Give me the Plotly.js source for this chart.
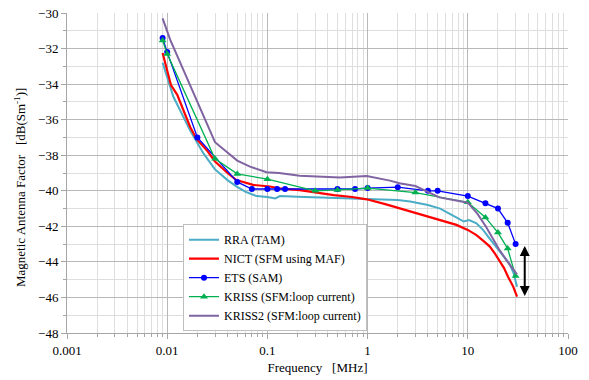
<!DOCTYPE html>
<html>
<head>
<meta charset="utf-8">
<script src="https://cdn.plot.ly/plotly-3.0.1.min.js"></script>
<style>html,body{margin:0;padding:0;background:#fff;font-family:"Liberation Serif","Times New Roman",serif;}#chart{width:589px;height:380px;}
#chart svg text{font-family:"Liberation Serif", "Times New Roman", serif !important;}</style>
</head>
<body>
<div id="chart"></div>
<script>
// ---- data (frequency in MHz, antenna factor in dB(S/m)) ----
const rraFreq = [0.009, 0.0115, 0.0169, 0.019, 0.023, 0.03, 0.04, 0.049, 0.06, 0.078, 0.1, 0.12, 0.133, 0.2, 0.4, 0.67, 1, 2, 2.66, 4, 5.3, 7, 8, 9.1, 10.3, 12.2, 14.2, 16.6, 20, 23, 26, 28.5, 31];
const rraVal  = [-32.8, -34.7, -36.6, -37.1, -37.9, -38.8, -39.4, -39.75, -40.05, -40.3, -40.35, -40.43, -40.3, -40.33, -40.38, -40.43, -40.45, -40.52, -40.6, -40.8, -41.0, -41.35, -41.55, -41.73, -41.65, -41.83, -42.2, -42.7, -43.3, -43.7, -44.1, -44.6, -45.4];

const nictFreq = [0.009, 0.0109, 0.0126, 0.0169, 0.0197, 0.0247, 0.03, 0.04, 0.049, 0.072, 0.106, 0.131, 0.21, 0.3, 0.46, 0.7, 0.98, 1.5, 2.08, 3.6, 5, 7.7, 10, 12.2, 14.5, 16.6, 18.5, 20.5, 23, 25.2, 28.4, 31];
const nictVal  = [-32.25, -34.05, -34.6, -36.4, -37.1, -37.7, -38.35, -39.0, -39.4, -39.67, -39.76, -39.86, -39.96, -40.1, -40.24, -40.35, -40.48, -40.75, -40.98, -41.36, -41.6, -41.92, -42.2, -42.49, -42.85, -43.14, -43.5, -43.89, -44.35, -44.83, -45.39, -45.96];

const etsFreq = [0.009, 0.01, 0.02, 0.05, 0.07, 0.1, 0.125, 0.15, 0.5, 0.75, 1, 2, 4, 5, 10, 15, 20, 25, 30];
const etsVal  = [-31.4, -32.2, -37.0, -39.5, -39.9, -39.9, -39.9, -39.9, -39.9, -39.9, -39.85, -39.8, -40.0, -40.0, -40.3, -40.7, -41.0, -41.8, -43.0];

const krissFreq = [0.009, 0.01, 0.03, 0.05, 0.1, 0.3, 0.5, 1, 3, 10, 15, 20, 25, 30];
const krissVal  = [-31.55, -32.3, -38.2, -39.05, -39.35, -40.0, -39.95, -39.85, -40.1, -40.65, -41.5, -42.35, -43.25, -44.8];

const kriss2Freq = [0.009, 0.0107, 0.03, 0.05, 0.067, 0.098, 0.131, 0.21, 0.53, 0.98, 1.67, 2.08, 3.0, 5.2, 10, 12.5, 15.2, 20.5, 25, 31];
const kriss2Val  = [-30.3, -31.5, -37.27, -38.3, -38.64, -38.96, -39.0, -39.15, -39.26, -39.17, -39.43, -39.58, -39.73, -40.37, -40.67, -41.3, -42.02, -43.29, -44.0, -44.7];

const seriesNames = ['RRA (TAM)', 'NICT (SFM using MAF)', 'ETS (SAM)', 'KRISS (SFM:loop current)', 'KRISS2 (SFM:loop current)'];

const xTickVals = [0.001, 0.01, 0.1, 1, 10, 100];
const xTickText = ['0.001', '0.01', '0.1', '1', '10', '100'];
const yTickVals = [-30, -32, -34, -36, -38, -40, -42, -44, -46, -48];

// spread indicator (double arrow)
const arrowFreq = 37;
const arrowSpan = [-43.1, -46.0];

const serifFamily = 'Times New Roman';

const traces = [
  {x: rraFreq, y: rraVal, name: seriesNames[0], mode: 'lines', line: {color: '#4BACC6', width: 2}},
  {x: nictFreq, y: nictVal, name: seriesNames[1], mode: 'lines', line: {color: '#FF0000', width: 2.2}},
  {x: etsFreq, y: etsVal, name: seriesNames[2], mode: 'lines+markers', line: {color: '#0000FF', width: 1.3}, marker: {color: '#0000FF', size: 6, symbol: 'circle'}},
  {x: krissFreq, y: krissVal, name: seriesNames[3], mode: 'lines+markers', line: {color: '#00B050', width: 1.3}, marker: {color: '#00B050', size: 7, symbol: 'triangle-up'}},
  {x: kriss2Freq, y: kriss2Val, name: seriesNames[4], mode: 'lines', line: {color: '#8064A2', width: 2}}
];

const layout = {
  width: 589, height: 380,
  margin: {l: 67, r: 21, t: 13, b: 47},
  paper_bgcolor: '#fff', plot_bgcolor: '#fff',
  font: {family: serifFamily, size: 13, color: '#000'},
  showlegend: true,
  legend: {
    x: 0.2315, y: 0.34, xanchor: 'left', yanchor: 'top',
    bgcolor: '#fff', bordercolor: '#bfbfbf', borderwidth: 1,
    font: {family: serifFamily, size: 12, color: '#000'}
  },
  xaxis: {
    type: 'log', range: [-3, 2],
    tickvals: xTickVals, ticktext: xTickText,
    showgrid: true, gridcolor: '#b8b8b8', gridwidth: 1,
    showline: true, linecolor: '#a6a6a6', linewidth: 1,
    ticks: 'outside', ticklen: 5, tickcolor: '#a6a6a6',
    minor: {dtick: 'D1', showgrid: true, gridcolor: '#dedede', ticks: 'outside', ticklen: 3, tickcolor: '#a6a6a6'},
    zeroline: false,
    tickfont: {family: serifFamily, size: 13, color: '#000'},
    title: {text: 'Frequency   [MHz]', font: {family: serifFamily, size: 13, color: '#000'}, standoff: 6}
  },
  yaxis: {
    range: [-48, -30],
    tickvals: yTickVals,
    showgrid: true, gridcolor: '#b8b8b8', gridwidth: 1,
    showline: true, linecolor: '#a6a6a6', linewidth: 1,
    ticks: 'outside', ticklen: 5, tickcolor: '#a6a6a6',
    minor: {dtick: 1, showgrid: true, gridcolor: '#dedede', ticks: 'outside', ticklen: 3, tickcolor: '#a6a6a6'},
    zeroline: false,
    tickfont: {family: serifFamily, size: 13, color: '#000'}
  },
  annotations: [
    {
      xref: 'paper', yref: 'paper', x: -0.094, y: 0.456, xanchor: 'center', yanchor: 'middle',
      text: 'Magnetic Antenna Factor   [dB(Sm<sup>-1</sup>)]', textangle: -90, showarrow: false,
      font: {family: serifFamily, size: 13, color: '#000'}
    },
    {
      xref: 'x', yref: 'y', axref: 'x', ayref: 'y',
      x: Math.log10(arrowFreq), y: arrowSpan[0], ax: Math.log10(arrowFreq), ay: arrowSpan[1],
      text: '', showarrow: true, arrowside: 'end+start', arrowhead: 2, arrowsize: 1, arrowwidth: 2, arrowcolor: '#000'
    }
  ]
};

function draw() { Plotly.newPlot('chart', traces, layout, {displayModeBar: false}); }
if (document.fonts && document.fonts.load) {
  document.fonts.load('13px "Liberation Serif"').then(draw, draw);
} else { draw(); }
</script>
</body>
</html>
